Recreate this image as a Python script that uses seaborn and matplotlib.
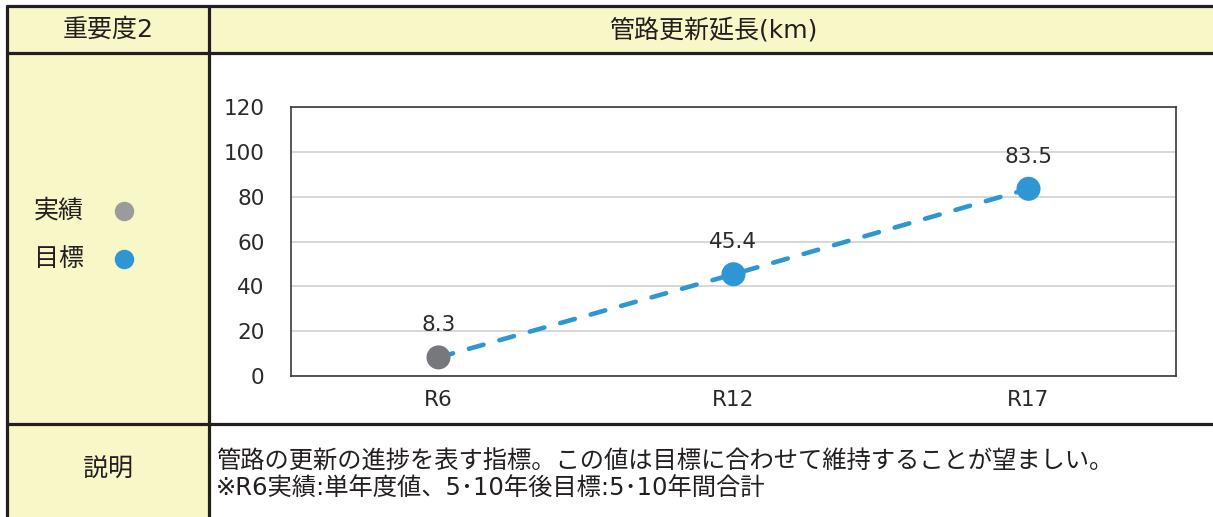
import matplotlib
matplotlib.use("Agg")
import matplotlib.pyplot as plt
import seaborn as sns
import pandas as pd
from matplotlib.patches import Rectangle
from matplotlib.lines import Line2D

categories = ["R6", "R12", "R17"]
values = [8.3, 45.4, 83.5]
status = ["実績", "目標", "目標"]
value_labels = ["8.3", "45.4", "83.5"]
y_ticks = [0, 20, 40, 60, 80, 100, 120]

header_left = "重要度2"
header_title = "管路更新延長(km)"
legend_items = ["実績", "目標"]
note_head = "説明"
note_lines = ["管路の更新の進捗を表す指標。この値は目標に合わせて維持することが望ましい。",
              "※R6実績:単年度値、5･10年後目標:5･10年間合計"]

sns.set_theme(style="white")
plt.rcParams['font.family'] = ['DejaVu Sans', 'Noto Sans CJK JP']

W, H = 1213, 517
fig = plt.figure(figsize=(W / 100, H / 100), dpi=100)

def fx(x):
    return x / W

def fy(y):
    return 1 - y / H

yellow = "#F8F7C8"
dark = "#231F20"
txt = "#231F20"
blue = "#2E96D3"
grey = "#77787B"
legend_grey = "#9B9B9F"
fs = 18
fs_note = 17.5

# table background cells
fig.patches.append(Rectangle((fx(7), fy(517)), fx(209) - fx(7), fy(6) - fy(517),
                             transform=fig.transFigure, facecolor=yellow, edgecolor="none", zorder=0))
fig.patches.append(Rectangle((fx(209), fy(53)), 1 - fx(209), fy(6) - fy(53),
                             transform=fig.transFigure, facecolor=yellow, edgecolor="none", zorder=0))

lw = 2.3
def hline(y, x0=7, x1=W):
    fig.lines.append(Line2D([fx(x0), fx(x1)], [fy(y), fy(y)], transform=fig.transFigure,
                            color=dark, lw=lw, zorder=5, solid_capstyle="butt"))
def vline(x, y0=6, y1=H):
    fig.lines.append(Line2D([fx(x), fx(x)], [fy(y0), fy(y1)], transform=fig.transFigure,
                            color=dark, lw=lw, zorder=5, solid_capstyle="butt"))

hline(6, 6)
hline(53)
hline(424)
vline(7, 5)
vline(209)

# texts in table
fig.text(fx(108), fy(30), header_left, ha="center", va="center", fontsize=fs, color=txt)
fig.text(fx(713), fy(30), header_title, ha="center", va="center", fontsize=fs, color=txt)
fig.text(fx(108), fy(470), note_head, ha="center", va="center", fontsize=fs, color=txt)
fig.text(fx(216), fy(462), note_lines[0], ha="left", va="center", fontsize=fs_note, color=txt)
fig.text(fx(216), fy(488), note_lines[1], ha="left", va="center", fontsize=fs_note, color=txt)

# legend
fig.text(fx(34), fy(211), legend_items[0], ha="left", va="center", fontsize=fs, color=txt)
fig.text(fx(34), fy(259), legend_items[1], ha="left", va="center", fontsize=fs, color=txt)
fig.lines.append(Line2D([fx(124)], [fy(211)], transform=fig.transFigure, marker="o",
                        markersize=13, color=legend_grey, linestyle="none"))
fig.lines.append(Line2D([fx(124)], [fy(259)], transform=fig.transFigure, marker="o",
                        markersize=13, color=blue, linestyle="none"))

# chart
ax = fig.add_axes([fx(291), fy(376), fx(1176) - fx(291), fy(107) - fy(376)])
df = pd.DataFrame({"cat": categories, "val": values, "status": status})
df["pos"] = range(len(categories))

sns.lineplot(data=df, x="pos", y="val", ax=ax, color=blue, lw=3.3, zorder=2,
             linestyle=(0, (3.3, 3.6)), dash_capstyle="round", legend=False)
sns.scatterplot(data=df, x="pos", y="val", hue="status", palette={"実績": grey, "目標": blue},
                s=300, edgecolor="none", ax=ax, zorder=3, legend=False)

for i, (v, lab) in enumerate(zip(values, value_labels)):
    ax.annotate(lab, (i, v), xytext=(0, 23), textcoords="offset points",
                ha="center", va="center", fontsize=15.5, color="#2A2A2A")

ax.set_xlim(-0.5, len(categories) - 0.5)
ax.set_ylim(0, 120)
ax.set_xticks(range(len(categories)))
ax.set_xticklabels(categories)
ax.set_yticks(y_ticks)
ax.set_xlabel("")
ax.set_ylabel("")
ax.grid(axis="y", color="#D4D4D4", lw=1.3)
ax.set_axisbelow(True)
for sp in ax.spines.values():
    sp.set_color("#3A3A3A")
    sp.set_linewidth(1.2)
ax.tick_params(axis="both", length=0, labelsize=15.5, colors="#2A2A2A")
ax.tick_params(axis="y", pad=19)
ax.tick_params(axis="x", pad=10)

fig.savefig("out.png", dpi=100)
